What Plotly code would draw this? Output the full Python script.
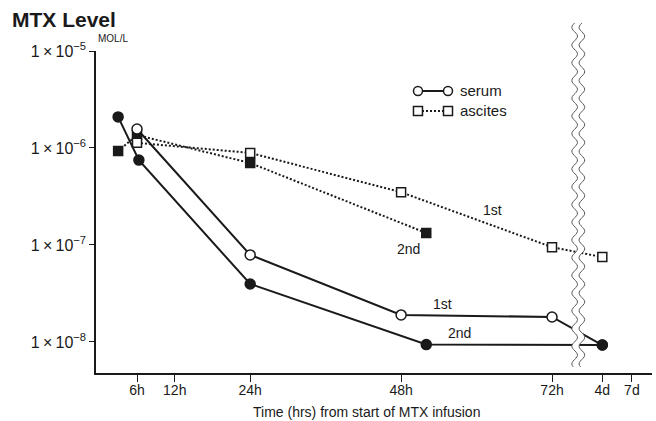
import numpy as np
import plotly.graph_objects as go

# ---- data (x in hours; 4d / 7d placed after an axis break) ----
tick_pos = [6, 12, 24, 48, 72, 80, 84.7]
tick_labels = ["6h", "12h", "24h", "48h", "72h", "4d", "7d"]

serum_1st_x = [6, 24, 48, 72, 80]
serum_1st_y = [1.57e-6, 7.9e-8, 1.9e-8, 1.81e-8, 9.3e-9]

serum_2nd_x = [3, 6.3, 24, 52, 80]
serum_2nd_y = [2.09e-6, 7.5e-7, 3.96e-8, 9.4e-9, 9.3e-9]

ascites_1st_x = [6, 24, 48, 72, 80]
ascites_1st_y = [1.13e-6, 8.9e-7, 3.5e-7, 9.5e-8, 7.5e-8]

ascites_2nd_x = [3, 6, 24, 52]
ascites_2nd_y = [9.3e-7, 1.36e-6, 7.0e-7, 1.33e-7]

y_tick_vals = [1e-8, 1e-7, 1e-6, 1e-5]
y_tick_text = ["1\u2009×\u200910<sup>−8</sup>", "1\u2009×\u200910<sup>−7</sup>",
               "1\u2009×\u200910<sup>−6</sup>", "1\u2009×\u200910<sup>−5</sup>"]

INK = "#1a1a1a"
FONT = "Liberation Sans, Arial, sans-serif"

fig = go.Figure()

def add(x, y, dash, symbol, fill):
    fig.add_trace(go.Scatter(
        x=x, y=y, mode="lines+markers",
        line=dict(color=INK, width=2, dash=dash),
        marker=dict(symbol=symbol, size=10 if "circle" in symbol else 9,
                    color=fill, line=dict(color=INK, width=1.5)),
        showlegend=False, cliponaxis=False))

add(ascites_2nd_x, ascites_2nd_y, "2px,2px", "square", INK)
add(ascites_1st_x, ascites_1st_y, "2px,2px", "square", "white")
add(serum_1st_x, serum_1st_y, "solid", "circle", "white")
add(serum_2nd_x, serum_2nd_y, "solid", "circle", INK)

# ---- axis break (wavy double line) ----
xl, xr = 75.6, 76.75
amp = 0.45
ytop, ybot = 1.087, 0.019
ys = np.linspace(ytop, ybot, 240)
period = 0.055
off = np.sin((ys - ytop) / period * 2 * np.pi) * amp
left = [(xl + o, y) for o, y in zip(off, ys)]
right = [(xr + o, y) for o, y in zip(off, ys)]

def path(pts):
    return "M " + " L ".join(f"{a:.4f},{b:.4f}" for a, b in pts)

fill_path = path(left + right[::-1]) + " Z"
shapes = [
    dict(type="path", path=fill_path, xref="x", yref="paper",
         fillcolor="white", line=dict(width=0), layer="above"),
    dict(type="path", path=path(left), xref="x", yref="paper",
         line=dict(color="#555", width=1), layer="above"),
    dict(type="path", path=path(right), xref="x", yref="paper",
         line=dict(color="#555", width=1), layer="above"),
]

# ---- manual legend ----
lx0, lx1, ltext = 0.5791, 0.6331, 0.6511
ly_s, ly_a = 0.8758, 0.8137
shapes += [
    dict(type="line", xref="paper", yref="paper", x0=lx0, x1=lx1, y0=ly_s, y1=ly_s,
         line=dict(color=INK, width=2)),
    dict(type="line", xref="paper", yref="paper", x0=lx0, x1=lx1, y0=ly_a, y1=ly_a,
         line=dict(color=INK, width=2, dash="2px,2px")),
]
for lx in (lx0, lx1):
    shapes.append(dict(type="circle", xref="paper", yref="paper",
                       xsizemode="pixel", ysizemode="pixel",
                       xanchor=lx, yanchor=ly_s, x0=-4.5, x1=4.5, y0=-4.5, y1=4.5,
                       fillcolor="white", line=dict(color=INK, width=1.5)))
    shapes.append(dict(type="rect", xref="paper", yref="paper",
                       xsizemode="pixel", ysizemode="pixel",
                       xanchor=lx, yanchor=ly_a, x0=-4.5, x1=4.5, y0=-4.5, y1=4.5,
                       fillcolor="white", line=dict(color=INK, width=1.5)))

annotations = [
    dict(text="serum", xref="paper", yref="paper", x=ltext, y=ly_s, xanchor="left",
         yanchor="middle", showarrow=False, font=dict(size=15, color=INK)),
    dict(text="ascites", xref="paper", yref="paper", x=ltext, y=ly_a, xanchor="left",
         yanchor="middle", showarrow=False, font=dict(size=15, color=INK)),
    dict(text="1st", xref="x", yref="y", x=62.6, y=-6.64, showarrow=False,
         font=dict(size=14, color=INK)),
    dict(text="2nd", xref="x", yref="y", x=49.2, y=-7.04, showarrow=False,
         font=dict(size=14, color=INK)),
    dict(text="1st", xref="x", yref="y", x=54.6, y=-7.61, showarrow=False,
         font=dict(size=14, color=INK)),
    dict(text="2nd", xref="x", yref="y", x=57.35, y=-7.91, showarrow=False,
         font=dict(size=14, color=INK)),
    dict(text="MOL/L", xref="paper", yref="paper", x=0.0, y=(373 - 39) / 322,
         xanchor="left", yanchor="middle", showarrow=False,
         font=dict(size=10, color=INK)),
    dict(text="Time (hrs) from start of MTX infusion", xref="paper", yref="paper",
         x=(366 - 96) / 556, y=(373 - 412) / 322, yanchor="middle", showarrow=False,
         font=dict(size=14, color=INK)),
]

fig.update_layout(
    width=656, height=421,
    margin=dict(l=96, r=4, t=51, b=48),
    paper_bgcolor="white", plot_bgcolor="white",
    font=dict(family=FONT, color=INK),
    title=dict(text="<b>MTX Level</b>", x=12 / 656, xanchor="left",
               y=1 - 20 / 421, yanchor="middle", yref="container",
               font=dict(size=21, color=INK)),
    shapes=shapes, annotations=annotations,
    xaxis=dict(range=[-0.52, 87.9], showline=True, linecolor=INK, linewidth=1.5,
               ticks="outside", ticklen=7, tickwidth=1.2, tickcolor=INK,
               tickvals=tick_pos, ticktext=tick_labels, showgrid=False,
               zeroline=False, tickfont=dict(size=14, color=INK),
               ticklabelstandoff=-4),
    yaxis=dict(type="log", range=[-8.32, -5], showline=True, linecolor=INK,
               linewidth=1.5, ticks="outside", ticklen=5, tickwidth=1.2,
               tickcolor=INK, tickvals=y_tick_vals, ticktext=y_tick_text,
               showgrid=False, zeroline=False, tickfont=dict(size=16, color=INK)),
)

fig.write_html("out.html")
